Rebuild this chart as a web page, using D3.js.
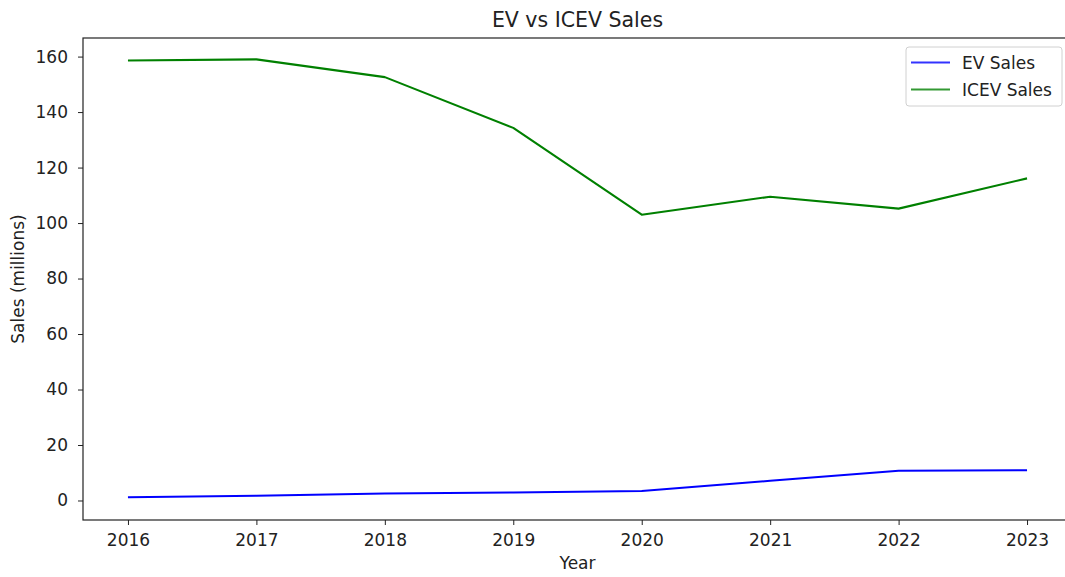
<!DOCTYPE html>
<html lang="en">
<head>
<meta charset="UTF-8" />
<title>EV vs ICEV Sales</title>
<script src="https://cdn.jsdelivr.net/npm/d3@7"></script>
<style>
  html, body { margin: 0; padding: 0; background: #fff; }
  svg { display: block; font-family: "DejaVu Sans", sans-serif; }
  .tick text { fill: #222; }
</style>
</head>
<body>
<div id="chart"></div>
<script>
// values (millions)
const years = [2016, 2017, 2018, 2019, 2020, 2021, 2022, 2023];
const evSales = [1.15, 1.7, 2.5, 2.9, 3.4, 7.1, 10.7, 10.9];
const icevSales = [158.6, 159.0, 152.6, 134.3, 103.0, 109.5, 105.2, 116.1];
const yTicks = [0, 20, 40, 60, 80, 100, 120, 140, 160];
const seriesNames = ["EV Sales", "ICEV Sales"];
const seriesColors = ["#0000ff", "#008000"];

const width = 1065, height = 577;
const plotLeft = 83, plotRight = 1072, plotTop = 38, plotBottom = 520;

const svg = d3.select("#chart").append("svg")
    .attr("width", width)
    .attr("height", height);

// matplotlib-like 5% margins
const xScale = d3.scaleLinear([2015.65, 2023.35], [plotLeft, plotRight]);
const yScale = d3.scaleLinear([-7.03, 166.7], [plotBottom, plotTop]);

// x axis
svg.append("g")
    .attr("transform", "translate(0," + plotBottom + ")")
    .call(d3.axisBottom(xScale).tickValues(years).tickFormat(d3.format("d")).tickSize(5).tickPadding(9))
    .call(g => g.select(".domain").remove())
    .call(g => g.selectAll(".tick line").attr("stroke", "#222"))
    .call(g => g.selectAll("text").attr("font-size", 17).attr("font-family", "DejaVu Sans"));

// y axis
svg.append("g")
    .attr("transform", "translate(" + plotLeft + ",0)")
    .call(d3.axisLeft(yScale).tickValues(yTicks).tickSize(5).tickPadding(10))
    .call(g => g.select(".domain").remove())
    .call(g => g.selectAll(".tick line").attr("stroke", "#222"))
    .call(g => g.selectAll("text").attr("font-size", 17).attr("font-family", "DejaVu Sans"));

// frame
svg.append("rect")
    .attr("x", plotLeft).attr("y", plotTop)
    .attr("width", plotRight - plotLeft).attr("height", plotBottom - plotTop)
    .attr("fill", "none").attr("stroke", "#222").attr("stroke-width", 1.2);

// lines
const line = d3.line()
    .x((d, i) => xScale(years[i]))
    .y(d => yScale(d));

[evSales, icevSales].forEach((s, k) => {
    svg.append("path")
        .datum(s)
        .attr("d", line)
        .attr("fill", "none")
        .attr("stroke", seriesColors[k])
        .attr("stroke-width", 2.1)
        .attr("stroke-linejoin", "round");
});

// title + axis labels
svg.append("text")
    .attr("x", (plotLeft + plotRight) / 2).attr("y", 27)
    .attr("text-anchor", "middle")
    .attr("font-size", 20.5)
    .attr("fill", "#222")
    .text("EV vs ICEV Sales");

svg.append("text")
    .attr("x", (plotLeft + plotRight) / 2).attr("y", 569)
    .attr("text-anchor", "middle")
    .attr("font-size", 17)
    .attr("fill", "#222")
    .text("Year");

svg.append("text")
    .attr("transform", "translate(24," + (plotTop + plotBottom) / 2 + ") rotate(-90)")
    .attr("text-anchor", "middle")
    .attr("font-size", 17)
    .attr("fill", "#222")
    .text("Sales (millions)");

// legend
const legend = svg.append("g");
legend.append("rect")
    .attr("x", 906).attr("y", 47)
    .attr("width", 156).attr("height", 59)
    .attr("rx", 3)
    .attr("fill", "#fff").attr("fill-opacity", 0.8)
    .attr("stroke", "#d0d0d0");

seriesNames.forEach((name, i) => {
    const y = 62.5 + i * 27;
    legend.append("line")
        .attr("x1", 911).attr("x2", 950)
        .attr("y1", y).attr("y2", y)
        .attr("stroke", seriesColors[i])
        .attr("stroke-opacity", 0.8)
        .attr("stroke-width", 2.1);
    legend.append("text")
        .attr("x", 962).attr("y", y + 6)
        .attr("font-size", 17)
        .attr("fill", "#222")
        .text(name);
});
</script>
</body>
</html>
